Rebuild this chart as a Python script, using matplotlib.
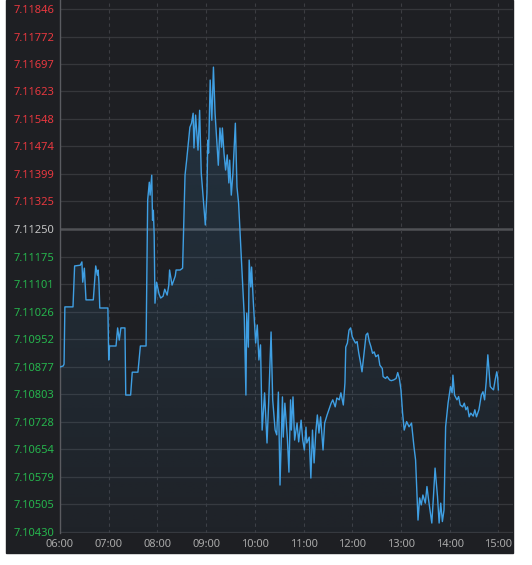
import matplotlib
matplotlib.use("Agg")
import matplotlib.pyplot as plt
import numpy as np
from matplotlib.patches import Rectangle

# intraday quote, minutes after 06:00
minutes = [0, 4, 5, 6, 16, 18, 25, 27, 28, 30, 32, 41, 44, 46, 47, 48, 49, 59, 60, 61,
           69, 71, 73, 75, 80, 81, 87, 89, 96, 99, 106, 108, 110, 111, 113, 114, 115, 116, 117, 119,
           122, 124, 127, 129, 132, 134, 135, 138, 142, 143, 148, 151, 154, 156, 160, 162, 164, 165, 167, 170,
           172, 174, 179, 181, 182, 183, 185, 187, 189, 191, 193, 195, 197, 199, 200, 202, 204, 206, 208, 209,
           211, 213, 216, 218, 220, 224, 227, 229, 230, 232, 233, 235, 236, 238, 241, 243, 245, 247, 249, 252,
           255, 257, 260, 262, 265, 267, 269, 271, 274, 275, 277, 280, 282, 284, 285, 287, 289, 292, 294, 297,
           299, 301, 303, 304, 307, 309, 311, 313, 315, 317, 319, 321, 324, 326, 329, 331, 334, 336, 339, 341,
           344, 346, 349, 351, 352, 354, 356, 358, 360, 362, 364, 366, 368, 370, 372, 374, 377, 379, 381, 383,
           385, 387, 389, 392, 394, 397, 398, 401, 403, 406, 408, 411, 414, 416, 418, 420, 422, 424, 427, 430,
           433, 436, 438, 441, 443, 445, 447, 450, 452, 454, 456, 458, 460, 462, 465, 467, 469, 471, 473, 475,
           478, 481, 483, 484, 486, 489, 491, 493, 496, 498, 500, 502, 504, 506, 509, 511, 513, 516, 519, 521,
           523, 525, 527, 530, 532, 534, 536, 538, 539, 540]
prices = [7.10876, 7.10879, 7.10884, 7.11039, 7.11039, 7.11150, 7.11152, 7.11161, 7.11106, 7.11144,
          7.11058, 7.11058, 7.11150, 7.11125, 7.11139, 7.11104, 7.11036, 7.11036, 7.10895, 7.10933,
          7.10933, 7.10982, 7.10949, 7.10982, 7.10982, 7.10800, 7.10800, 7.10862, 7.10862, 7.10933,
          7.10933, 7.11329, 7.11377, 7.11342, 7.11396, 7.11274, 7.11301, 7.11234, 7.11049, 7.11106,
          7.11074, 7.11063, 7.11068, 7.11087, 7.11071, 7.11098, 7.11139, 7.11098, 7.11123, 7.11139,
          7.11139, 7.11144, 7.11396, 7.11437, 7.11526, 7.11537, 7.11564, 7.11470, 7.11559, 7.11464,
          7.11572, 7.11402, 7.11261, 7.11348, 7.11491, 7.11456, 7.11654, 7.11545, 7.11689, 7.11564,
          7.11491, 7.11423, 7.11524, 7.11472, 7.11524, 7.11456, 7.11410, 7.11451, 7.11375, 7.11437,
          7.11342, 7.11402, 7.11537, 7.11364, 7.11320, 7.11147, 7.11012, 7.10800, 7.11022, 7.10930,
          7.11166, 7.11093, 7.11147, 7.11058, 7.10941, 7.10990, 7.10895, 7.10936, 7.10705, 7.10806,
          7.10670, 7.10778, 7.10971, 7.10787, 7.10705, 7.10692, 7.10808, 7.10556, 7.10795, 7.10686,
          7.10778, 7.10686, 7.10591, 7.10787, 7.10705, 7.10795, 7.10678, 7.10724, 7.10673, 7.10732,
          7.10678, 7.10651, 7.10713, 7.10670, 7.10686, 7.10575, 7.10705, 7.10616, 7.10697, 7.10746,
          7.10697, 7.10741, 7.10651, 7.10724, 7.10746, 7.10759, 7.10778, 7.10787, 7.10768, 7.10792,
          7.10787, 7.10806, 7.10773, 7.10833, 7.10930, 7.10941, 7.10976, 7.10982, 7.10958, 7.10949,
          7.10941, 7.10945, 7.10914, 7.10890, 7.10863, 7.10904, 7.10963, 7.10968, 7.10945, 7.10931,
          7.10913, 7.10917, 7.10904, 7.10909, 7.10881, 7.10872, 7.10850, 7.10845, 7.10850, 7.10841,
          7.10839, 7.10841, 7.10845, 7.10861, 7.10845, 7.10814, 7.10751, 7.10705, 7.10728, 7.10714,
          7.10724, 7.10660, 7.10624, 7.10461, 7.10521, 7.10502, 7.10529, 7.10507, 7.10552, 7.10516,
          7.10484, 7.10453, 7.10525, 7.10602, 7.10525, 7.10453, 7.10507, 7.10457, 7.10488, 7.10714,
          7.10778, 7.10823, 7.10806, 7.10854, 7.10800, 7.10787, 7.10796, 7.10773, 7.10768, 7.10778,
          7.10760, 7.10768, 7.10741, 7.10751, 7.10743, 7.10760, 7.10741, 7.10760, 7.10800, 7.10809,
          7.10787, 7.10836, 7.10909, 7.10823, 7.10818, 7.10814, 7.10841, 7.10863, 7.10850, 7.10814]

pre_close = 7.11250
y_ticks = [7.10430, 7.10505, 7.10579, 7.10654, 7.10728, 7.10803, 7.10877, 7.10952, 7.11026, 7.11101,
           7.11175, 7.11250, 7.11325, 7.11399, 7.11474, 7.11548, 7.11623, 7.11697, 7.11772, 7.11846]
x_labels = ["06:00", "07:00", "08:00", "09:00", "10:00", "11:00", "12:00", "13:00", "14:00", "15:00"]

bg = "#1e1f23"
line_c = "#3f9fe3"

plt.rcParams["font.family"] = ["Noto Sans", "DejaVu Sans"]

fig = plt.figure(figsize=(5.32, 5.65), dpi=100, facecolor="white")
fig.patches.append(Rectangle((6 / 532, 1 - 553 / 565), 507 / 532, 553 / 565,
                             transform=fig.transFigure, color=bg, zorder=-10))
ax = fig.add_axes([60 / 532, 1 - 533 / 565, 453 / 532, 533 / 565])
ax.set_facecolor(bg)

ymin, ymax = 7.10426, 7.11871
ax.plot(minutes, prices, color=line_c, lw=1.0, zorder=3)

# gradient area under the line
area = ax.fill_between(minutes, prices, ymin, color="none", lw=0)
grad = np.zeros((256, 1, 4))
grad[:, 0, :3] = matplotlib.colors.to_rgb(line_c)
grad[:, 0, 3] = np.linspace(0.17, 0.03, 256)
img = ax.imshow(grad, extent=[0, 540, ymin, ymax], aspect="auto",
                origin="upper", zorder=2)
img.set_clip_path(area.get_paths()[0], transform=ax.transData)

ax.set_xlim(0, 558)
ax.set_ylim(ymin, ymax)

# grid
for v in y_ticks:
    if v == pre_close:
        ax.axhline(v, color="#505155", lw=1.8, zorder=1)
    else:
        ax.axhline(v, color="#36373b", lw=0.9, zorder=1)
for i in range(1, len(x_labels)):
    ax.axvline(i * 60, color="#3c3d42", lw=0.8, ls=(0, (3, 3)), zorder=1)

ax.set_yticks(y_ticks)
ax.set_yticklabels(["%.5f" % v for v in y_ticks])
for v, lab in zip(y_ticks, ax.get_yticklabels()):
    if v > pre_close:
        lab.set_color("#e8383f")
    elif v < pre_close:
        lab.set_color("#26b54d")
    else:
        lab.set_color("#c4c4c4")
ax.set_xticks([i * 60 for i in range(len(x_labels))])
ax.set_xticklabels(x_labels, color="#a8a8a8")
ax.tick_params(axis="both", length=0, labelsize=8)
ax.tick_params(axis="y", pad=4)
ax.tick_params(axis="x", pad=4)

for s in ["top", "right", "bottom"]:
    ax.spines[s].set_visible(False)
ax.spines["left"].set_color("#5a5b60")
ax.spines["left"].set_linewidth(1.0)

fig.savefig("out.png", dpi=100, facecolor="white")
